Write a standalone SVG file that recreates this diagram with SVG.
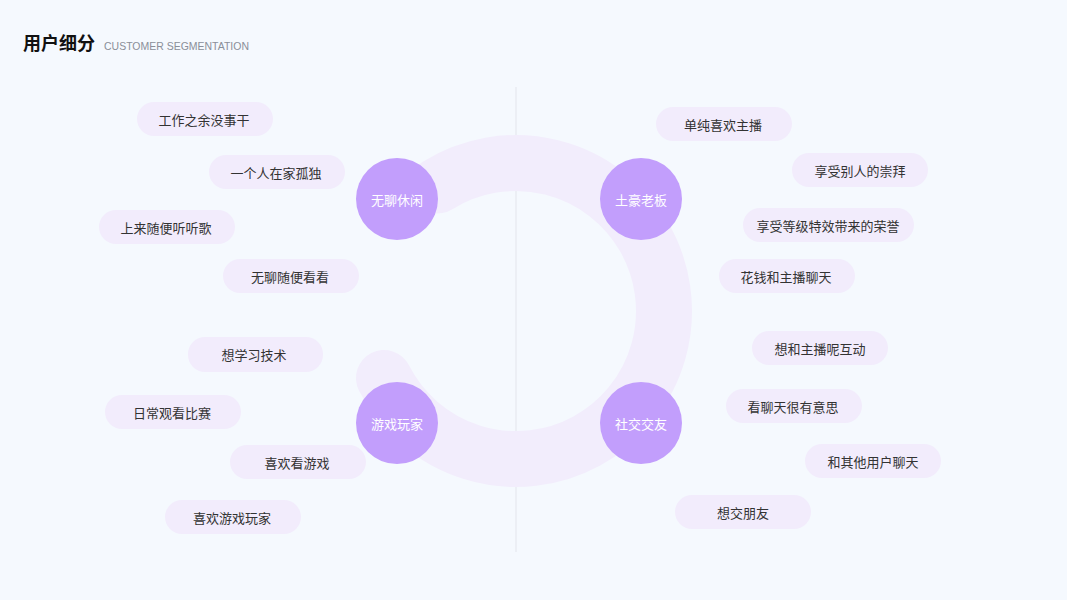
<svg xmlns="http://www.w3.org/2000/svg" width="1067" height="600" viewBox="0 0 1067 600">
<style>
.pill{fill:#F2ECFC}
.pt{font-family:"Noto Sans CJK SC","Noto Sans",sans-serif;font-size:13px;fill:#333333;text-anchor:middle;dominant-baseline:central}
.hub{fill:#C29EFC}
.ht{font-family:"Noto Sans CJK SC","Noto Sans",sans-serif;font-size:13px;fill:#FFFFFF;text-anchor:middle;dominant-baseline:central}
</style>
<rect width="1067" height="600" fill="#F5F9FE"/>
<g id="title">
<text x="23" y="50" font-family="'Noto Sans CJK SC',sans-serif" font-size="18" font-weight="bold" fill="#111111">用户细分</text>
<text x="104" y="50" font-family="'Liberation Sans',sans-serif" font-size="11.5" fill="#8A8F99" textLength="145" lengthAdjust="spacingAndGlyphs">CUSTOMER SEGMENTATION</text>
</g>
<g id="connectors">
<line x1="516" y1="87" x2="516" y2="552" stroke="#ECEFF5" stroke-width="2"/>
<path d="M 384 378 A 148 148 0 1 0 437.6 185.5" fill="none" stroke="#F2EDFC" stroke-width="56" stroke-linecap="round"/>
</g>
<g id="hub-wuliao"><circle class="hub" cx="397" cy="199" r="41"/><text class="ht" x="397" y="199">无聊休闲</text></g>
<g id="hub-tuhao"><circle class="hub" cx="641" cy="199" r="41"/><text class="ht" x="641" y="199">土豪老板</text></g>
<g id="hub-youxi"><circle class="hub" cx="397" cy="423" r="41"/><text class="ht" x="397" y="423">游戏玩家</text></g>
<g id="hub-shejiao"><circle class="hub" cx="641" cy="423" r="41"/><text class="ht" x="641" y="423">社交交友</text></g>
<g id="p1"><rect class="pill" x="137" y="102" width="136" height="34" rx="17"/><text class="pt" x="204" y="119.5">工作之余没事干</text></g>
<g id="p2"><rect class="pill" x="209" y="155" width="136" height="34" rx="17"/><text class="pt" x="276" y="172.5">一个人在家孤独</text></g>
<g id="p3"><rect class="pill" x="99" y="210" width="136" height="34" rx="17"/><text class="pt" x="166" y="227.5">上来随便听听歌</text></g>
<g id="p4"><rect class="pill" x="223" y="259" width="136" height="34" rx="17"/><text class="pt" x="290" y="276.5">无聊随便看看</text></g>
<g id="p5"><rect class="pill" x="188" y="337" width="135" height="35" rx="17"/><text class="pt" x="254" y="354.5">想学习技术</text></g>
<g id="p6"><rect class="pill" x="105" y="395" width="136" height="34" rx="17"/><text class="pt" x="172" y="412.5">日常观看比赛</text></g>
<g id="p7"><rect class="pill" x="230" y="445" width="136" height="34" rx="17"/><text class="pt" x="297" y="462.5">喜欢看游戏</text></g>
<g id="p8"><rect class="pill" x="165" y="500" width="136" height="34" rx="17"/><text class="pt" x="232" y="517.5">喜欢游戏玩家</text></g>
<g id="p9"><rect class="pill" x="656" y="107" width="136" height="34" rx="17"/><text class="pt" x="723" y="124.5">单纯喜欢主播</text></g>
<g id="p10"><rect class="pill" x="792" y="153" width="136" height="34" rx="17"/><text class="pt" x="860" y="170.5">享受别人的崇拜</text></g>
<g id="p11"><rect class="pill" x="743" y="208" width="171" height="34" rx="17"/><text class="pt" x="828" y="225.5">享受等级特效带来的荣誉</text></g>
<g id="p12"><rect class="pill" x="719" y="259" width="136" height="34" rx="17"/><text class="pt" x="786" y="276.5">花钱和主播聊天</text></g>
<g id="p13"><rect class="pill" x="752" y="331" width="136" height="34" rx="17"/><text class="pt" x="820" y="348">想和主播呢互动</text></g>
<g id="p14"><rect class="pill" x="726" y="389" width="136" height="34" rx="17"/><text class="pt" x="793" y="406">看聊天很有意思</text></g>
<g id="p15"><rect class="pill" x="805" y="444" width="136" height="34" rx="17"/><text class="pt" x="873" y="461">和其他用户聊天</text></g>
<g id="p16"><rect class="pill" x="675" y="495" width="136" height="34" rx="17"/><text class="pt" x="743" y="512">想交朋友</text></g>
</svg>
